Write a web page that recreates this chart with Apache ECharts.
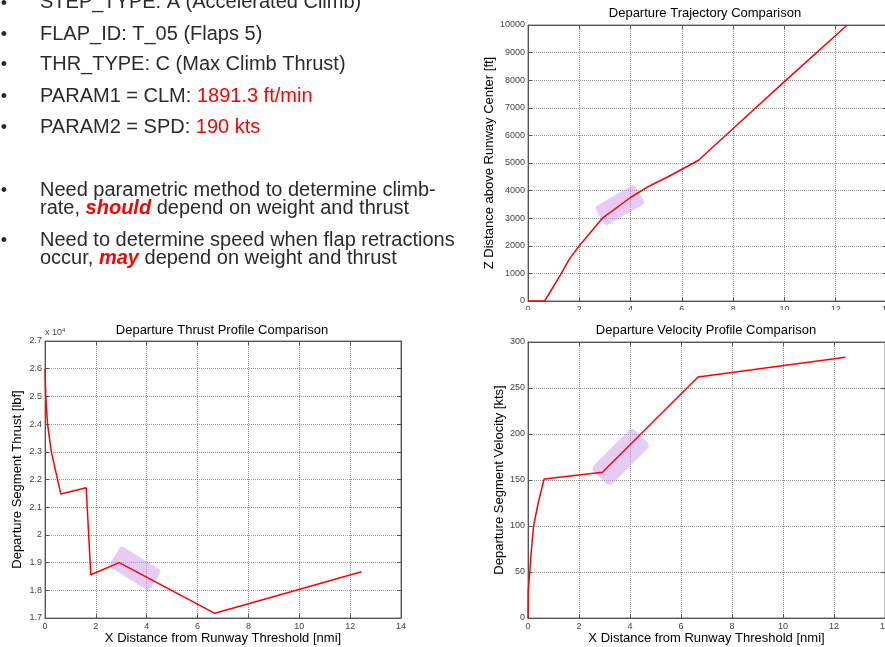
<!DOCTYPE html>
<html>
<head>
<meta charset="utf-8">
<script src="https://cdn.jsdelivr.net/npm/echarts@6/dist/echarts.min.js"></script>
<style>
  html, body { margin: 0; padding: 0; background: #fff; }
  #main { width: 885px; height: 647px; }
</style>
</head>
<body>
<div id="main"></div>
<script>
// trajectory: x distance [nmi] vs altitude [ft]
const trajX = [0, 0.65, 1.3, 1.6, 2.0, 2.9, 4.0, 4.7, 5.5, 6.65, 8.0, 10.0, 12.45];
const trajZ = [0, 0, 1000, 1500, 2000, 3000, 3750, 4150, 4520, 5100, 6250, 7950, 10000];

// thrust profile [lbf]
const thrX = [0, 0.03, 0.1, 0.25, 0.62, 1.62, 1.8, 2.92, 6.68, 12.45];
const thrF = [26000, 25000, 24000, 23000, 21480, 21700, 18560, 19000, 17170, 18670];

// velocity profile [kts]
const velX = [0, 0.01, 0.07, 0.12, 0.22, 0.4, 0.63, 2.92, 6.67, 12.45];
const velV = [0, 30, 50, 70, 100, 125, 151, 158.5, 262, 283.5];

// purple highlight boxes (data coords of centre)
const hlTraj = [3.58, 3475];
const hlThr = [3.54, 18790];
const hlVel = [3.64, 175];

const xTicks = [0, 14, 2];
const zTicks = [0, 10000, 1000];
const fTicks = [17000, 27000, 1000];
const vTicks = [0, 300, 50];

const xName = 'X Distance from Runway Threshold [nmi]';

const zip = (a, b) => a.map((v, i) => [v, b[i]]);

const myChart = echarts.init(document.getElementById('main'));

const gray = '#555';
const font = 'Liberation Sans';
// rounded box with small corners, scaled by symbolSize
const boxPath = 'path://M8,0 H92 Q100,0 100,8 V40 Q100,48 92,48 H8 Q0,48 0,40 V8 Q0,0 8,0 Z';

function xAxes(grid, showName) {
  return [{
    type: 'value', gridIndex: grid, position: 'bottom',
    min: xTicks[0], max: xTicks[1], interval: xTicks[2],
    axisLine: { onZero: false, lineStyle: { color: gray } },
    axisTick: { inside: true, length: 4, lineStyle: { color: gray } },
    axisLabel: { color: '#444', fontSize: 9, fontFamily: font, margin: 4 },
    splitLine: { show: true, lineStyle: { type: 'dotted', color: '#999' } },
    name: showName ? xName : '',
    nameLocation: 'middle', nameGap: 14,
    nameTextStyle: { fontSize: 13, color: '#000', fontFamily: font }
  }, {
    type: 'value', gridIndex: grid, position: 'top',
    min: xTicks[0], max: xTicks[1], interval: xTicks[2],
    axisLine: { onZero: false, lineStyle: { color: gray } },
    axisTick: { inside: true, length: 4, lineStyle: { color: gray } },
    axisLabel: { show: false }, splitLine: { show: false }
  }];
}

function yAxes(grid, ticks, name, gap, fmt) {
  return [{
    type: 'value', gridIndex: grid, position: 'left',
    min: ticks[0], max: ticks[1], interval: ticks[2],
    axisLine: { onZero: false, lineStyle: { color: gray } },
    axisTick: { inside: true, length: 4, lineStyle: { color: gray } },
    axisLabel: { color: '#444', fontSize: 9, fontFamily: font, margin: 3, formatter: fmt || (v => String(v)) },
    splitLine: { show: true, lineStyle: { type: 'dotted', color: '#999' } },
    name: name, nameLocation: 'middle', nameGap: gap,
    nameTextStyle: { fontSize: 13, color: '#000', fontFamily: font }
  }, {
    type: 'value', gridIndex: grid, position: 'right',
    min: ticks[0], max: ticks[1], interval: ticks[2],
    axisLine: { onZero: false, lineStyle: { color: gray } },
    axisTick: { inside: true, length: 4, lineStyle: { color: gray } },
    axisLabel: { show: false }, splitLine: { show: false }
  }];
}

function redLine(idx, data) {
  return {
    type: 'line', xAxisIndex: idx * 2, yAxisIndex: idx * 2, data: data,
    showSymbol: false, silent: true,
    lineStyle: { color: '#ff0000', width: 1.5 }
  };
}

function highlight(idx, pt, size, rot) {
  return {
    type: 'scatter', xAxisIndex: idx * 2, yAxisIndex: idx * 2, data: [pt],
    symbol: boxPath, symbolKeepAspect: false, symbolSize: size, symbolRotate: rot, silent: true,
    itemStyle: { color: 'rgba(203,147,235,0.6)' }
  };
}

const txt = '#2b2b2b';
const rich = {
  r: { fill: '#ff0000', fontSize: 20, fontFamily: font },
  b: { fill: '#ff0000', fontSize: 20, fontFamily: font, fontWeight: 'bold', fontStyle: 'italic' }
};
function para(y, text) {
  return {
    type: 'text', x: 40, y: y,
    style: { text: text, fill: txt, fontSize: 20, fontFamily: font, verticalAlign: 'middle', rich: rich }
  };
}
function bullet(y) {
  return {
    type: 'text', x: 4, y: y,
    style: { text: '•', fill: txt, fontSize: 18, fontFamily: font, align: 'center', verticalAlign: 'middle' }
  };
}
function title(x, y, text) {
  return {
    type: 'text', x: x, y: y,
    style: { text: text, fill: '#000', fontSize: 13, fontFamily: font, align: 'center', verticalAlign: 'middle' }
  };
}

const gridBase = { show: true, borderColor: '#777', containLabel: false, outerBoundsMode: 'none' };

myChart.setOption({
  animation: false,
  backgroundColor: '#fff',
  grid: [
    Object.assign({ left: 528, top: 25, width: 359, height: 276 }, gridBase),
    Object.assign({ left: 45, top: 341, width: 356, height: 277 }, gridBase),
    Object.assign({ left: 528, top: 342, width: 357, height: 276 }, gridBase)
  ],
  xAxis: [].concat(xAxes(0, false), xAxes(1, true), xAxes(2, true)),
  yAxis: [].concat(
    yAxes(0, zTicks, 'Z Distance above Runway Center [ft]', 31),
    yAxes(1, fTicks, 'Departure Segment Thrust [lbf]', 21, v => String(+(v / 1e4).toFixed(1))),
    yAxes(2, vTicks, 'Departure Segment Velocity [kts]', 22)
  ),
  series: [
    redLine(0, zip(trajX, trajZ)),
    redLine(1, zip(thrX, thrF)),
    redLine(2, zip(velX, velV)),
    highlight(0, hlTraj, [46, 22], 30),
    highlight(1, hlThr, [48, 24], -32),
    highlight(2, hlVel, [58, 26], 45)
  ],
  graphic: [
    // hide lower half of the top chart's x tick labels
    { type: 'rect', z: 100, shape: { x: 480, y: 310, width: 405, height: 9 }, style: { fill: '#fff' } },
    title(705, 13, 'Departure Trajectory Comparison'),
    title(222, 330, 'Departure Thrust Profile Comparison'),
    title(706, 330, 'Departure Velocity Profile Comparison'),
    {
      type: 'text', x: 45, y: 333,
      style: {
        text: 'x 10{s|4}', fill: '#444', fontSize: 9, fontFamily: font, verticalAlign: 'middle',
        rich: { s: { fontSize: 6, fill: '#444', fontFamily: font, padding: [0, 0, 6, 0] } }
      }
    },
    bullet(4), para(2, 'STEP_TYPE: A (Accelerated Climb)'),
    bullet(35), para(34, 'FLAP_ID: T_05 (Flaps 5)'),
    bullet(65), para(64, 'THR_TYPE: C (Max Climb Thrust)'),
    bullet(97), para(96, 'PARAM1 = CLM: {r|1891.3 ft/min}'),
    bullet(128), para(127, 'PARAM2 = SPD: {r|190 kts}'),
    bullet(191), para(190, 'Need parametric method to determine climb-'),
    para(208, 'rate, {b|should} depend on weight and thrust'),
    bullet(241), para(240, 'Need to determine speed when flap retractions'),
    para(258, 'occur, {b|may} depend on weight and thrust')
  ]
});
</script>
</body>
</html>
